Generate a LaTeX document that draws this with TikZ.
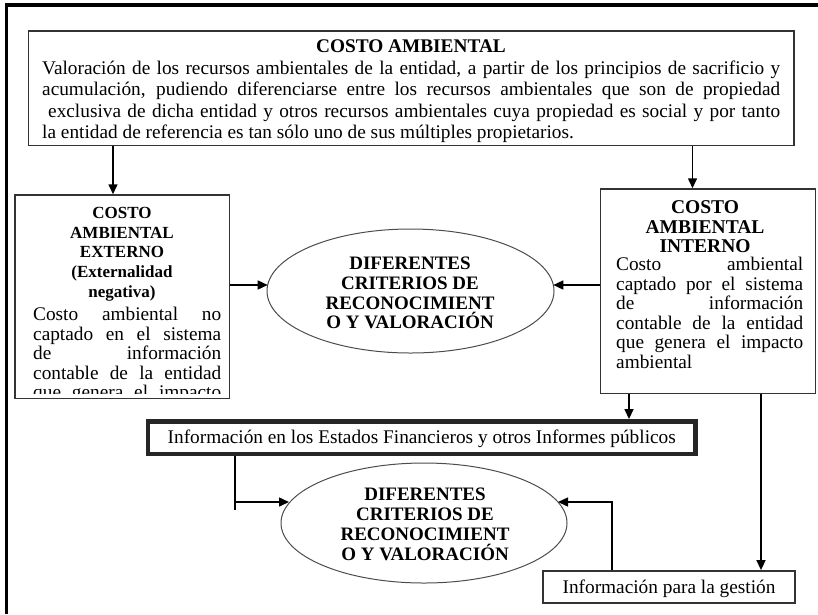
\documentclass[tikz,border=0pt]{standalone}
\usepackage{fontspec}
\setmainfont{Liberation Serif}
\usetikzlibrary{shapes.geometric,arrows.meta,calc}
\newcommand{\justline}[2]{\makebox[#1][s]{#2}}
\tikzset{
  boxN/.style={rectangle, draw=black!80, line width=1.5pt, inner sep=0pt},
  ellN/.style={ellipse, draw=black!70, line width=1pt, inner sep=0pt},
  conn/.style={line width=1.5pt, draw=black},
  arr/.style={conn, -{Triangle[length=10pt,width=9pt]}},
  rT/.style={font=\fontsize{19.3}{21.5}\selectfont, inner sep=0pt, anchor=base west},
  cT/.style={font=\fontsize{19.3}{21.5}\selectfont, inner sep=0pt, anchor=base},
  hT/.style={font=\bfseries\fontsize{#1}{#1}\selectfont, inner sep=0pt, anchor=base}
}
\begin{document}
\begin{tikzpicture}[x=1pt,y=-1pt]
\useasboundingbox (0,0) rectangle (818,614);
% outer frame (top and left)
\draw[line width=3.4pt] (6.6,614) -- (6.6,5) -- (818,5);

% boxes
\node[boxN, minimum width=765.7pt, minimum height=114.5pt] (top) at (411.15,88.25) {};
\node[boxN, minimum width=214.3pt, minimum height=203.3pt] (ext) at (122.15,296.65) {};
\node[boxN, minimum width=215pt, minimum height=204.3pt] (int) at (708.2,291.15) {};
\node[ellN, minimum width=287pt, minimum height=124pt] (upper) at (410.5,291) {};
\node[ellN, minimum width=286pt, minimum height=120pt] (lower) at (424,523) {};
\node[rectangle, draw=black!85, line width=4.5pt, inner sep=0pt, minimum width=547.5pt, minimum height=32.5pt] (info) at (421.75,437.55) {};
\node[boxN, minimum width=252pt, minimum height=32pt] (gest) at (669,586.85) {};

% top box text
\node[hT=19.3] (topH) at (411,52.5) {COSTO AMBIENTAL};
\node[rT] (top1) at (42,74) {\justline{738pt}{Valoración de los recursos ambientales de la entidad, a partir de los principios de sacrificio y}};
\node[rT] (top2) at (42,95.5) {\justline{738pt}{acumulación, pudiendo diferenciarse entre los recursos ambientales que son de propiedad}};
\node[rT] (top3) at (48,117) {\justline{732pt}{exclusiva de dicha entidad y otros recursos ambientales cuya propiedad es social y por tanto}};
\node[rT] (top4) at (42,138.5) {la entidad de referencia es tan sólo uno de sus múltiples propietarios.};

% left box text (clipped at the bottom)
\begin{scope}
\clip (15,195) rectangle (229,393.5);
\node[hT=17] (e1) at (122,218.5) {COSTO};
\node[hT=17] (e2) at (122,238) {AMBIENTAL};
\node[hT=17] (e3) at (122,257.5) {EXTERNO};
\node[hT=17] (e4) at (122,277) {(Externalidad};
\node[hT=17] (e5) at (122,297) {negativa)};
\node[rT] (e6) at (33,320.5) {\justline{188pt}{Costo ambiental no}};
\node[rT] (e7) at (33,340) {\justline{188pt}{captado en el sistema}};
\node[rT] (e8) at (33,359.5) {\justline{188pt}{de información}};
\node[rT] (e9) at (33,379) {\justline{188pt}{contable de la entidad}};
\node[rT] (e10) at (33,398.5) {\justline{188pt}{que genera el impacto}};
\end{scope}

% right box text
\node[hT=19.5] (i1) at (705,213.5) {COSTO};
\node[hT=19.5] (i2) at (705,233) {AMBIENTAL};
\node[hT=19.5] (i3) at (705,252.5) {INTERNO};
\node[rT] (i4) at (616,270.5) {\justline{187pt}{Costo ambiental}};
\node[rT] (i5) at (616,290) {\justline{187pt}{captado por el sistema}};
\node[rT] (i6) at (616,309.5) {\justline{187pt}{de información}};
\node[rT] (i7) at (616,329) {\justline{187pt}{contable de la entidad}};
\node[rT] (i8) at (616,348.5) {\justline{187pt}{que genera el impacto}};
\node[rT] (i9) at (616,368) {ambiental};

% ellipse texts
\node[hT=19] (u1) at (410,269.5) {DIFERENTES};
\node[hT=19] (u2) at (410,289) {CRITERIOS DE};
\node[hT=19] (u3) at (410,309) {RECONOCIMIENT};
\node[hT=19] (u4) at (410,328.5) {O Y VALORACIÓN};
\node[hT=19] (l1) at (425,500.5) {DIFERENTES};
\node[hT=19] (l2) at (425,520.5) {CRITERIOS DE};
\node[hT=19] (l3) at (425,540.5) {RECONOCIMIENT};
\node[hT=19] (l4) at (425,560) {O Y VALORACIÓN};

% info texts
\node[cT] (infoT) at (421.75,443.5) {Información en los Estados Financieros y otros Informes públicos};
\node[cT] (gestT) at (669,593) {Información para la gestión};

% connectors
\coordinate (p1) at (113,0);
\coordinate (p2) at (692.5,0);
\coordinate (p3) at (629,0);
\coordinate (p4) at (761,0);
\coordinate (eL) at (267.7,285);
\coordinate (eR) at (553.3,285);
\coordinate (q1) at (235,510);
\coordinate (q2) at (235,502);
\coordinate (eL2) at (289,502);
\coordinate (q3) at (612,502);
\coordinate (eR2) at (558,502);
\draw[arr] (top.south -| p1) -- (ext.north -| p1);
\draw[arr] (top.south -| p2) -- (int.north -| p2);
\draw[arr] (ext.east |- eL) -- (eL);
\draw[arr] (int.west |- eR) -- (eR);
\draw[arr] (int.south -| p3) -- (info.north -| p3);
\draw[arr] (int.south -| p4) -- (gest.north -| p4);
\draw[conn] (info.south -| q1) -- (q1);
\draw[arr] (q2) -- (eL2);
\draw[arr] (gest.north -| q3) -- (q3) -- (eR2);
\end{tikzpicture}
\end{document}
